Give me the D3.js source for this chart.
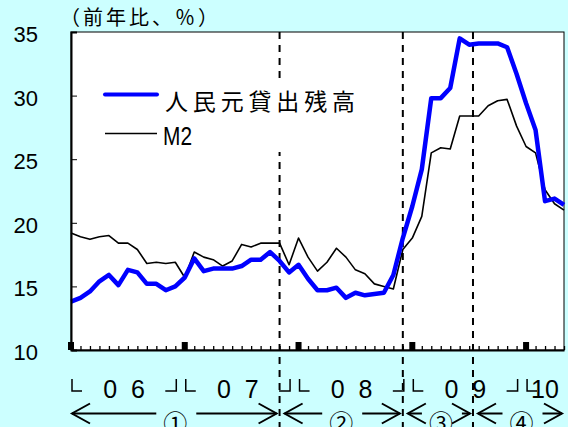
<!DOCTYPE html>
<html><head><meta charset="utf-8">
<script src="https://cdn.jsdelivr.net/npm/d3@7"></script>
<style>html,body{margin:0;padding:0;background:#CCFFFF;} svg{display:block;}</style>
</head><body><svg id="c" width="568" height="427"></svg>
<script>
// ---- data (monthly, Jan 2006 – May 2010, y/y %) ----
const months = d3.range(53).map(i => new Date(2006, i, 1));
const loans = [
  13.8, 14.1, 14.6, 15.4, 15.9, 15.1, 16.3, 16.1, 15.2, 15.2, 14.7, 15.0,
  15.7, 17.2, 16.2, 16.4, 16.4, 16.4, 16.6, 17.1, 17.1, 17.7, 17.0, 16.1,
  16.7, 15.6, 14.7, 14.7, 14.9, 14.1, 14.5, 14.3, 14.4, 14.5, 15.9, 18.8,
  21.3, 24.2, 29.8, 29.8, 30.6, 34.5, 34.0, 34.1, 34.1, 34.1, 33.8, 31.7,
  29.4, 27.3, 21.7, 21.9, 21.4
];
const m2 = [
  19.2, 18.9, 18.7, 18.9, 19.0, 18.4, 18.4, 17.9, 16.8, 16.9, 16.8, 16.9,
  15.7, 17.7, 17.3, 17.1, 16.6, 17.0, 18.3, 18.1, 18.4, 18.4, 18.4, 16.7,
  18.8, 17.3, 16.2, 16.9, 18.0, 17.3, 16.3, 16.0, 15.2, 15.0, 14.8, 17.9,
  18.8, 20.5, 25.5, 25.9, 25.8, 28.4, 28.4, 28.4, 29.2, 29.6, 29.7, 27.6,
  26.0, 25.5, 22.6, 21.5, 21.0
];
const seriesNames = ["人民元貸出残高", "M2"];
const yTicks = [10, 15, 20, 25, 30, 35];
const yearLabels = ["06", "07", "08", "09", "10"];
const yearStart = [0, 12, 24, 36, 48];
const periodLabels = ["①", "②", "③", "④"];
const periodBounds = [0, 22, 35, 42.4, 52];
const titleText = "（前年比、％）";

// ---- layout ----
const svg = d3.select("#c");
const L = 71, R = 564, T = 32, B = 350;
const x = d3.scaleLinear().domain([0, 52]).range([L, R]);
const y = d3.scaleLinear().domain([10, 35]).range([B, T]);
const CJK = "'Noto Sans CJK JP', 'Noto Sans', sans-serif";
const LAT = "'Liberation Sans', Arial, sans-serif";

svg.append("rect").attr("width", 568).attr("height", 427).attr("fill", "#CCFFFF");
svg.append("rect").attr("x", L).attr("y", T).attr("width", R - L).attr("height", B - T)
  .attr("fill", "#fff").attr("stroke", "#000").attr("stroke-width", 1);

// dashed period separators
svg.selectAll("line.sep").data(periodBounds.slice(1, 4)).join("line")
  .attr("class", "sep")
  .attr("x1", d => x(d)).attr("x2", d => x(d))
  .attr("y1", T).attr("y2", 427)
  .attr("stroke", "#000").attr("stroke-width", 2).attr("stroke-dasharray", "7,6");

// legend box
svg.append("rect").attr("x", 95).attr("y", 78).attr("width", 275).attr("height", 74).attr("fill", "#fff");

// series
const line = d3.line().x((d, i) => x(i)).y(d => y(d));
svg.append("path").datum(m2).attr("d", line)
  .attr("fill", "none").attr("stroke", "#000").attr("stroke-width", 1.6).attr("stroke-linejoin", "round");
svg.append("path").datum(loans).attr("d", line)
  .attr("fill", "none").attr("stroke", "#0000FF").attr("stroke-width", 4.5).attr("stroke-linejoin", "round");

// y axis
const ya = svg.append("g").attr("transform", `translate(${L},0)`)
  .call(d3.axisLeft(y).tickValues(yTicks).tickSize(-6).tickPadding(33));
ya.select(".domain").attr("stroke-width", 2);
ya.selectAll(".tick line").attr("stroke-width", 1);
ya.selectAll("text").attr("font-family", LAT).attr("font-size", 22).attr("fill", "#000")
  .attr("dy", null).attr("y", 9.5);

// x axis (monthly ticks inside)
const xa = svg.append("g").attr("transform", `translate(0,${B})`)
  .call(d3.axisBottom(x).tickValues(d3.range(0, 53)).tickSize(-4).tickSizeOuter(0).tickFormat(""));
xa.select(".domain").attr("stroke-width", 2);
xa.selectAll(".tick line").attr("stroke-width", 1.3);
svg.selectAll("rect.jan").data(yearStart).join("rect").attr("class", "jan")
  .attr("x", d => x(d) - 3).attr("y", B - 8).attr("width", 6).attr("height", 8).attr("fill", "#000");

// year brackets
const yearEnd = [11, 23, 35, 47];
svg.selectAll("path.lb").data(yearStart).join("path").attr("class", "lb")
  .attr("d", d => `M${x(d) + 1},379 V391 H${x(d) + 11}`)
  .attr("fill", "none").attr("stroke", "#000").attr("stroke-width", 1.5);
svg.selectAll("path.rb").data(yearEnd).join("path").attr("class", "rb")
  .attr("d", d => `M${x(d) - 10},391 H${x(d) + 1} V379`)
  .attr("fill", "none").attr("stroke", "#000").attr("stroke-width", 1.5);
svg.selectAll("text.yr").data(yearLabels).join("text").attr("class", "yr")
  .attr("x", (d, i) => i < 4 ? (x(yearStart[i]) + x(yearEnd[i])) / 2 - 20 : x(yearStart[i]) + 5)
  .attr("y", 398)
  .attr("letter-spacing", (d, i) => i < 4 ? 14 : 0)
  .attr("font-family", LAT).attr("font-size", 25).attr("fill", "#000")
  .text(d => d);

// period arrows
const AY = 413.5;
periodLabels.forEach((lab, i) => {
  const a = i === 0 ? x(periodBounds[i]) + 1 : x(periodBounds[i]) + 5;
  const b = x(periodBounds[i + 1]) - (i === 3 ? 2 : 3);
  const c = (x(periodBounds[i]) + x(periodBounds[i + 1])) / 2 + (i >= 2 ? 3 : 0);
  const g = svg.append("g").attr("fill", "none").attr("stroke", "#000").attr("stroke-width", 2);
  g.append("path").attr("d", `M${a},${AY} H${c - 19} M${c + 21},${AY} H${b}`);
  g.append("path").attr("d", `M${a + 18},${AY - 10} L${a},${AY} L${a + 18},${AY + 10}`);
  g.append("path").attr("d", `M${b - 18},${AY - 10} L${b},${AY} L${b - 18},${AY + 10}`);
  svg.append("text").attr("x", c).attr("y", 421).attr("text-anchor", "middle")
    .attr("dominant-baseline", "central")
    .attr("font-family", CJK).attr("font-size", 24).attr("fill", "#000").text(lab);
});

// title
svg.append("text").attr("x", 60).attr("y", 25)
  .attr("font-family", CJK).attr("font-size", 20).attr("fill", "#000")
  .attr("textLength", 158).attr("lengthAdjust", "spacing").text(titleText);

// legend
svg.append("line").attr("x1", 105).attr("x2", 157).attr("y1", 94.5).attr("y2", 94.5)
  .attr("stroke", "#0000FF").attr("stroke-width", 4).attr("stroke-linecap", "round");
svg.append("line").attr("x1", 105).attr("x2", 157).attr("y1", 133.5).attr("y2", 133.5)
  .attr("stroke", "#000").attr("stroke-width", 1.5);
svg.append("text").attr("x", 165).attr("y", 110)
  .attr("font-family", CJK).attr("font-size", 23).attr("fill", "#000")
  .attr("textLength", 190).attr("lengthAdjust", "spacing").text(seriesNames[0]);
svg.append("text").attr("x", 163).attr("y", 145)
  .attr("font-family", LAT).attr("font-size", 25).attr("fill", "#000")
  .attr("textLength", 29).attr("lengthAdjust", "spacingAndGlyphs").text(seriesNames[1]);
</script></body></html>
